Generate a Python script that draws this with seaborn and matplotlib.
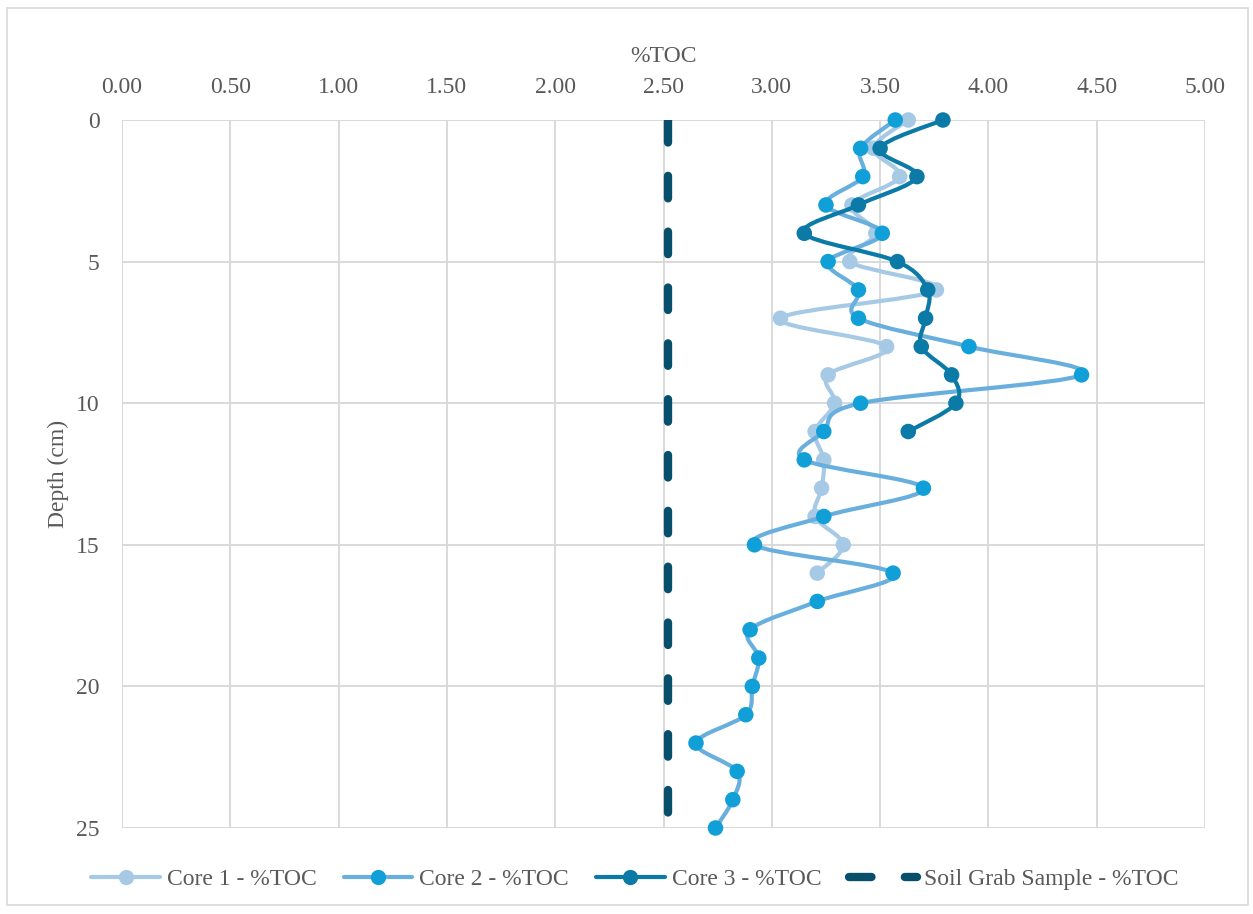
import numpy as np
import pandas as pd
import seaborn as sns
import matplotlib
matplotlib.use("Agg")
import matplotlib.pyplot as plt
from matplotlib.path import Path
from matplotlib.patches import PathPatch, Rectangle
from matplotlib.lines import Line2D

# Total organic carbon (%TOC) by depth (cm) for each sediment core
depth_core1 = list(range(0, 17))
toc_core1 = [3.63, 3.47, 3.59, 3.37, 3.48, 3.36, 3.76, 3.04, 3.53, 3.26,
             3.29, 3.20, 3.24, 3.23, 3.20, 3.33, 3.21]

depth_core2 = list(range(0, 26))
toc_core2 = [3.57, 3.41, 3.42, 3.25, 3.51, 3.26, 3.40, 3.40, 3.91, 4.43,
             3.41, 3.24, 3.15, 3.70, 3.24, 2.92, 3.56, 3.21, 2.90, 2.94,
             2.91, 2.88, 2.65, 2.84, 2.82, 2.74]

depth_core3 = list(range(0, 12))
toc_core3 = [3.79, 3.50, 3.67, 3.40, 3.15, 3.58, 3.72, 3.71, 3.69, 3.83,
             3.85, 3.63]

# Soil grab sample, shown as a reference line over the full depth range
depth_soil = [0, 25]
toc_soil = [2.52, 2.52]

series_names = ["Core 1 - %TOC", "Core 2 - %TOC", "Core 3 - %TOC",
                "Soil Grab Sample - %TOC"]
x_ticks = [0.0, 0.5, 1.0, 1.5, 2.0, 2.5, 3.0, 3.5, 4.0, 4.5, 5.0]
y_ticks = [0, 5, 10, 15, 20, 25]

line_colors = ["#a6c9e6", "#69afdd", "#0b7aa6"]
marker_colors = ["#a6c9e6", "#109fd6", "#0b7aa6"]
soil_color = "#074f6a"
text_color = "#595959"
grid_color = "#d9d9d9"

sns.set_theme(style="white")
plt.rcParams["font.family"] = ["Liberation Serif", "DejaVu Serif"]

fig = plt.figure(figsize=(12.53, 9.14), dpi=100)
fig.patches.append(Rectangle((7 / 1253, 9 / 914), 1241 / 1253, 897 / 914,
                             transform=fig.transFigure, fill=False,
                             edgecolor=grid_color, linewidth=1.2))

ax = fig.add_axes([122 / 1253, 1 - 828 / 914, 1083 / 1253, 708 / 914])


def smooth_path(xs, ys):
    """Cubic Bezier path through the points (Catmull-Rom style)."""
    pts = np.column_stack([xs, ys]).astype(float)
    n = len(pts)
    verts = [pts[0]]
    codes = [Path.MOVETO]
    for i in range(n - 1):
        p0 = pts[i - 1] if i > 0 else pts[i]
        p1 = pts[i]
        p2 = pts[i + 1]
        p3 = pts[i + 2] if i + 2 < n else pts[i + 1]
        verts += [p1 + (p2 - p0) / 6.0, p2 - (p3 - p1) / 6.0, p2]
        codes += [Path.CURVE4] * 3
    return Path(verts, codes)


cores = [
    (toc_core1, depth_core1),
    (toc_core2, depth_core2),
    (toc_core3, depth_core3),
]

# Soil grab sample dashed reference line
sns.lineplot(x=toc_soil, y=depth_soil, orient="y", sort=False, ax=ax,
             color=soil_color, linewidth=6, zorder=2,
             dashes=False, legend=False)
soil_line = ax.lines[-1]
soil_line.set_dashes((2.7, 4.0))
soil_line.set_dash_capstyle("round")

for i, (toc, depth) in enumerate(cores):
    z = 3 + 2 * i
    patch = PathPatch(smooth_path(toc, depth), fill=False,
                      edgecolor=line_colors[i], linewidth=3.0,
                      capstyle="round", joinstyle="round", zorder=z)
    patch.set_clip_on(False)
    ax.add_patch(patch)
    df = pd.DataFrame({"toc": toc, "depth": depth})
    sns.scatterplot(data=df, x="toc", y="depth", ax=ax, color=marker_colors[i],
                    s=125, edgecolor="none", linewidth=0, zorder=z + 1,
                    legend=False, clip_on=False)

ax.set_xlim(0, 5)
ax.set_ylim(25, 0)
ax.set_xticks(x_ticks)
ax.set_xticklabels([f"{v:.2f}" for v in x_ticks])
ax.set_yticks(y_ticks)
ax.set_yticklabels([str(v) for v in y_ticks])
ax.xaxis.tick_top()
ax.tick_params(axis="both", length=0, labelsize=17, labelcolor=text_color)
ax.tick_params(axis="x", pad=16)
ax.tick_params(axis="y", pad=16)
ax.grid(True, color=grid_color, linewidth=1.4)
ax.set_axisbelow(True)
for sp in ax.spines.values():
    sp.set_visible(False)

ax.set_xlabel("%TOC", fontsize=17, color=text_color)
ax.xaxis.set_label_position("top")
ax.xaxis.set_label_coords(0.5, (828 - 56) / 708)
ax.xaxis.label.set_verticalalignment("center")
ax.set_ylabel("Depth (cm)", fontsize=17, color=text_color)
ax.yaxis.set_label_coords((58 - 122) / 1083, 0.5)
ax.yaxis.label.set_verticalalignment("center")

handles = [
    Line2D([], [], color=line_colors[i], linewidth=3.0, marker="o",
           markersize=11, markerfacecolor=marker_colors[i],
           markeredgewidth=0)
    for i in range(3)
]
soil_handle = Line2D([], [], color=soil_color, linewidth=6,
                     dash_capstyle="round")
soil_handle.set_dashes((2.7, 4.0))
handles.append(soil_handle)

leg = fig.legend(handles, series_names, loc="center",
                 bbox_to_anchor=(635 / 1253, 1 - 879 / 914), ncol=4,
                 frameon=False, fontsize=17, handlelength=2.9,
                 handletextpad=0.3, columnspacing=1.15, borderaxespad=0)
for t in leg.get_texts():
    t.set_color(text_color)

fig.savefig("out.png", dpi=100)
